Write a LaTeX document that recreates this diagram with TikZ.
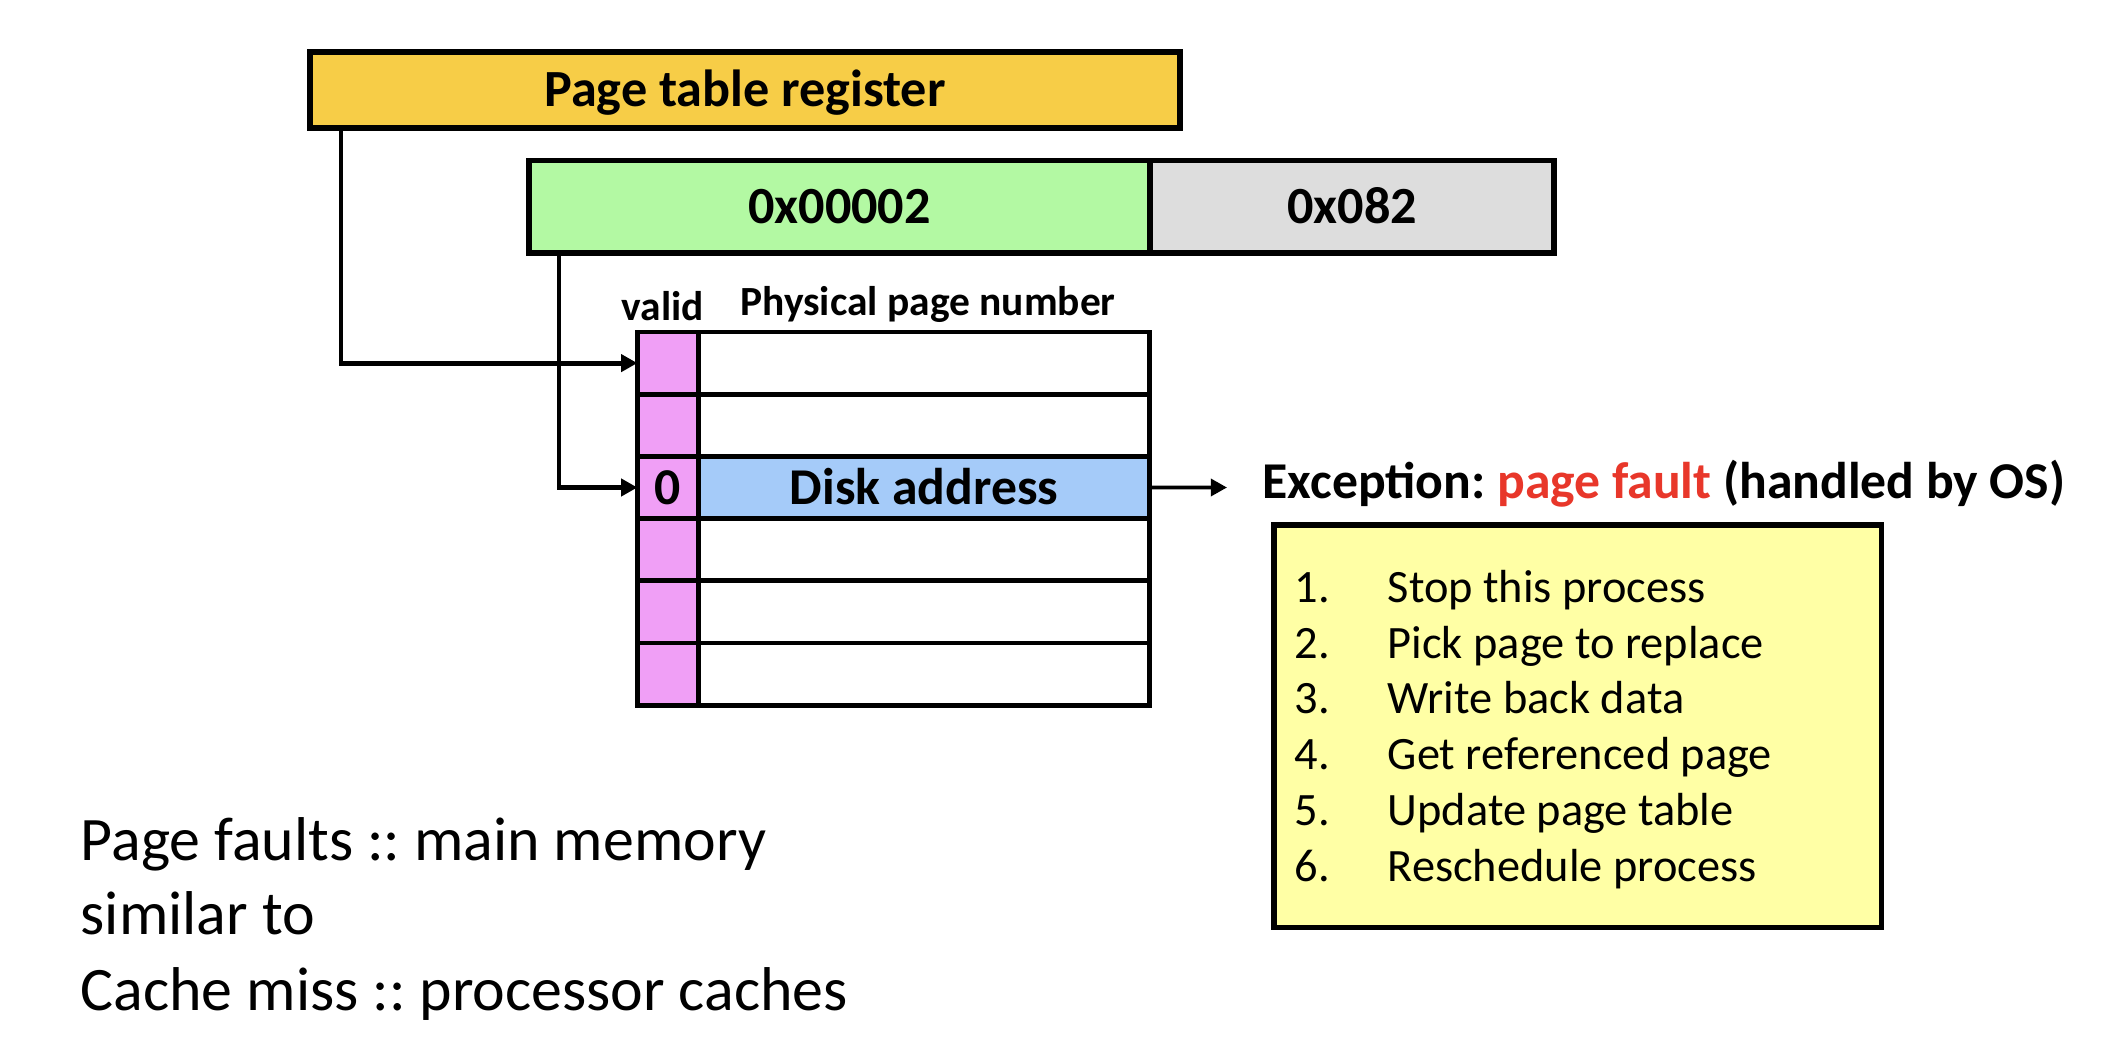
\documentclass[tikz,border=0pt]{standalone}
\usepackage{fontspec}
\setmainfont{Carlito}
\usetikzlibrary{arrows.meta,positioning}
\frenchspacing

\definecolor{regyellow}{HTML}{F7CD47}
\definecolor{vpngreen}{HTML}{B3F9A3}
\definecolor{offgrey}{HTML}{DDDDDD}
\definecolor{validpink}{HTML}{F09FF6}
\definecolor{diskblue}{HTML}{A5CBF9}
\definecolor{osyellow}{HTML}{FFFFA5}
\definecolor{faultred}{HTML}{E8372A}

\begin{document}
\begin{tikzpicture}
	\useasboundingbox (0,0) rectangle (21.08,-10.54);
	\begin{scope}[every node/.style = {rectangle, draw, line width=1.5pt,
		inner sep=0pt, outer sep=0pt, minimum height=0.925cm,
		font=\bfseries\fontsize{14.85}{17}\selectfont, text height=9.5pt, text depth=0pt}]
		\node[fill=regyellow, minimum width=8.7cm, minimum height=0.76cm] (ptr) at (7.45,-0.90) {Page table register};
		\node[fill=vpngreen, minimum width=6.21cm] (vpn) at (8.395,-2.0675) {0x00002};
		\node[fill=offgrey, minimum width=4.04cm, right=0pt of vpn] (off) {0x082};
	\end{scope}
	\begin{scope}[every node/.style = {rectangle, draw, line width=1.4pt,
		inner sep=0pt, outer sep=0pt, minimum height=0.622cm,
		font=\bfseries\fontsize{14.7}{18}\selectfont, text height=9.4pt, text depth=0pt},
		validcell/.style = {fill=validpink, minimum width=0.612cm},
		ppncell/.style = {fill=white, minimum width=4.51cm}]
		\node[validcell] (v1) at (6.68,-3.631) {};
		\node[ppncell, right=0pt of v1] (p1) {};
		\node[validcell, below=0pt of v1] (v2) {};
		\node[ppncell, right=0pt of v2] (p2) {};
		\node[validcell, below=0pt of v2] (v3) {0};
		\node[ppncell, fill=diskblue, right=0pt of v3] (p3) {Disk address};
		\node[validcell, below=0pt of v3] (v4) {};
		\node[ppncell, right=0pt of v4] (p4) {};
		\node[validcell, below=0pt of v4] (v5) {};
		\node[ppncell, right=0pt of v5] (p5) {};
		\node[validcell, below=0pt of v5] (v6) {};
		\node[ppncell, right=0pt of v6] (p6) {};
	\end{scope}
	\begin{scope}[every node/.style = {inner sep=0pt, anchor=base,
		font=\bfseries\fontsize{11.8}{14}\selectfont}]
		\node (validlbl) at (6.63,-3.20) {valid};
		\node (ppnlbl) at (9.28,-3.15) {Physical page number};
	\end{scope}
	\begin{scope}[>={Triangle[length=4.6pt,width=4.8pt]}, line width=1.4pt]
		\coordinate (ptrtap) at (3.41,-1.28);
		\coordinate (vpntap) at (5.59,-2.53);
		\coordinate (exc) at (12.27,-4.875);
		\draw [->] (ptrtap) |- (v1.west);
		\draw [->] (vpntap) |- (v3.west);
		\draw [->, line width=1.1pt] (p3.east) -- (exc);
	\end{scope}
	\node[anchor=base west, inner sep=0pt, font=\bfseries\fontsize{14.7}{18}\selectfont] (fault) at (12.62,-4.98)
		{Exception: \textcolor{faultred}{page fault} (handled by OS)};
	\node[draw, line width=1.5pt, fill=osyellow, minimum width=6.075cm, minimum height=4.025cm] (osbox) at (15.7775,-7.2625) {};
	\begin{scope}[every node/.style = {inner sep=0pt, anchor=base west, font=\fontsize{13.2}{16}\selectfont}]
		\foreach \n/\task in {1/Stop this process, 2/Pick page to replace, 3/Write back data,
			4/Get referenced page, 5/Update page table, 6/Reschedule process} {
			\node (num\n) at (12.94,{-6.025-0.557*(\n-1)}) {\n.};
			\node (item\n) at (13.87,{-6.025-0.557*(\n-1)}) {\task};
		}
	\end{scope}
	\begin{scope}[every node/.style = {inner sep=0pt, anchor=base west, font=\fontsize{17.6}{21}\selectfont}]
		\node (note1) at (0.80,-8.60) {Page faults :: main memory};
		\node (note2) at (0.80,-9.34) {similar to};
		\node (note3) at (0.80,-10.10) {Cache miss :: processor caches};
	\end{scope}
\end{tikzpicture}
\end{document}
